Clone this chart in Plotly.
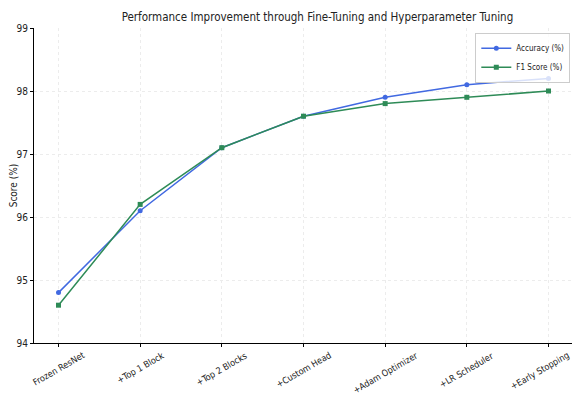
import plotly.graph_objects as go

stages = ["Frozen ResNet", "+Top 1 Block", "+Top 2 Blocks", "+Custom Head",
          "+Adam Optimizer", "+LR Scheduler", "+Early Stopping"]
accuracy = [94.8, 96.1, 97.1, 97.6, 97.9, 98.1, 98.2]
f1_score = [94.6, 96.2, 97.1, 97.6, 97.8, 97.9, 98.0]

FONT = "DejaVu Sans Condensed, Liberation Sans Narrow, DejaVu Sans, sans-serif"

xs = list(range(len(stages)))

fig = go.Figure()
fig.add_trace(go.Scatter(x=xs, y=accuracy, mode="lines+markers",
                         name="Accuracy (%)",
                         line=dict(color="#4169E1", width=1.5),
                         marker=dict(symbol="circle", size=5, color="#4169E1")))
fig.add_trace(go.Scatter(x=xs, y=f1_score, mode="lines+markers",
                         name="F1 Score (%)",
                         line=dict(color="#2E8B57", width=1.5),
                         marker=dict(symbol="square", size=5, color="#2E8B57")))

# category labels, rotated 30 degrees and centred on each tick (matplotlib style)
for i, s in enumerate(stages):
    fig.add_annotation(x=i, xref="x", y=-0.014, yref="paper", text=s,
                       showarrow=False, textangle=-30, xanchor="center", yanchor="top",
                       xshift=-9 if i == len(stages) - 1 else 0,
                       font=dict(size=9, color="#222"))

fig.update_layout(
    width=572, height=397,
    margin=dict(l=26, r=7, t=20, b=62),
    paper_bgcolor="white", plot_bgcolor="white",
    font=dict(family=FONT, size=10, color="#222"),
    title=dict(text="Performance Improvement through Fine-Tuning and Hyperparameter Tuning",
               x=0.541, xanchor="center", y=0.977, yanchor="middle",
               font=dict(size=11.5, color="#222")),
    showlegend=True,
    legend=dict(x=0.995, y=0.985, xanchor="right", yanchor="top",
                bgcolor="rgba(255,255,255,0.8)", bordercolor="#ccc", borderwidth=1,
                font=dict(size=8), itemwidth=30, tracegroupgap=0),
    xaxis=dict(range=[-0.3, 6.3], tickmode="array", tickvals=xs,
               showticklabels=False, showline=True, linecolor="black",
               linewidth=1, ticks="outside", ticklen=3, tickcolor="black",
               showgrid=True, gridcolor="#ececec", griddash="dot", gridwidth=1,
               zeroline=False, automargin=False),
    yaxis=dict(range=[94, 99], dtick=1, showline=True, linecolor="black", linewidth=1,
               ticks="outside", ticklen=3, tickcolor="black",
               showgrid=True, gridcolor="#ececec", griddash="dot", gridwidth=1,
               zeroline=False, title=dict(text="Score (%)", font=dict(size=10), standoff=2),
               tickfont=dict(size=10), automargin=False),
)

fig.write_html("out.html")
